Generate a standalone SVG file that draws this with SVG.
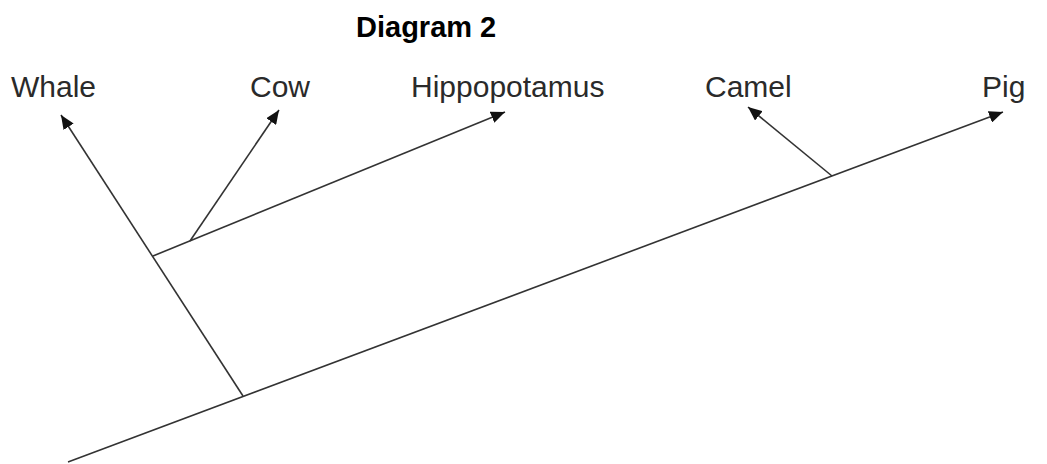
<svg xmlns="http://www.w3.org/2000/svg" width="1047" height="464" viewBox="0 0 1047 464">
<style>
.lbl{font-family:"Liberation Sans",Arial,sans-serif;font-size:30px;fill:#2a2a2a}
.title{font-family:"Liberation Sans",Arial,sans-serif;font-size:29px;font-weight:bold;fill:#000}
.br{stroke:#333;stroke-width:1.6;fill:none}
</style>
<defs>
<marker id="ah" markerUnits="userSpaceOnUse" markerWidth="16" markerHeight="12" refX="14" refY="6" orient="auto">
<path d="M0,0 L14,6 L0,12 Z" fill="#111"/>
</marker>
</defs>
<rect width="1047" height="464" fill="#fff"/>
<text class="title" x="356" y="37">Diagram 2</text>
<g id="connectors">
<line class="br" x1="68" y1="462" x2="1003" y2="112" marker-end="url(#ah)"/>
<line class="br" x1="243" y1="396" x2="61" y2="115" marker-end="url(#ah)"/>
<line class="br" x1="153" y1="256" x2="505" y2="112" marker-end="url(#ah)"/>
<line class="br" x1="190" y1="241" x2="279" y2="110" marker-end="url(#ah)"/>
<line class="br" x1="832" y1="176" x2="748" y2="107" marker-end="url(#ah)"/>
</g>
<g id="whale"><text class="lbl" x="11" y="97">Whale</text></g>
<g id="cow"><text class="lbl" x="250" y="97">Cow</text></g>
<g id="hippopotamus"><text class="lbl" x="411" y="97">Hippopotamus</text></g>
<g id="camel"><text class="lbl" x="705" y="97">Camel</text></g>
<g id="pig"><text class="lbl" x="982" y="97">Pig</text></g>
</svg>
